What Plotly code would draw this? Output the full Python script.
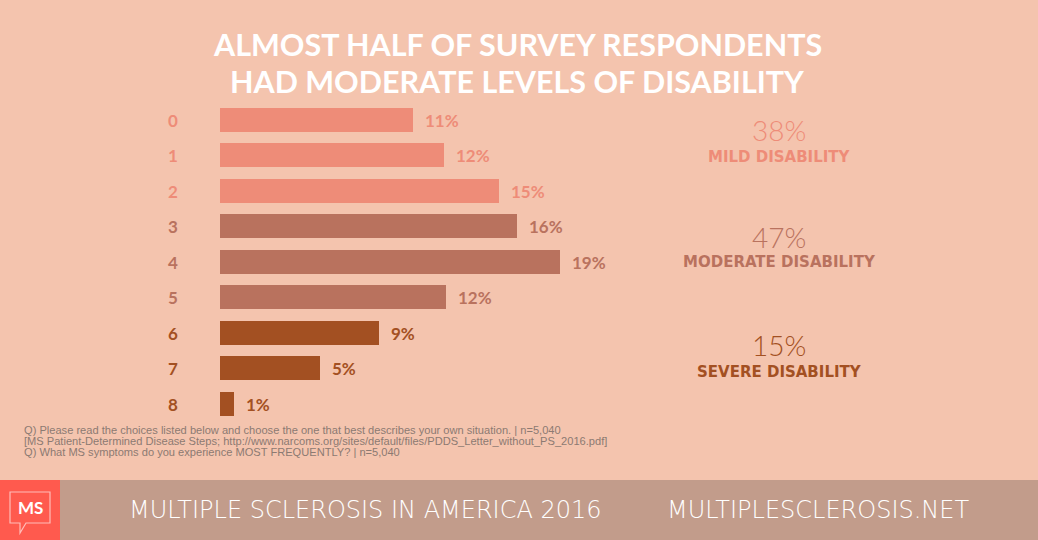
import plotly.graph_objects as go

# ---- data ----
categories = ["0", "1", "2", "3", "4", "5", "6", "7", "8"]
values = [10.8, 12.5, 15.6, 16.6, 19.0, 12.6, 8.9, 5.6, 0.8]
value_labels = ["11%", "12%", "15%", "16%", "19%", "12%", "9%", "5%", "1%"]
groups = ["mild", "mild", "mild", "moderate", "moderate", "moderate", "severe", "severe", "severe"]
group_names = ["MILD DISABILITY", "MODERATE DISABILITY", "SEVERE DISABILITY"]
group_totals = ["38%", "47%", "15%"]
group_keys = ["mild", "moderate", "severe"]
title_lines = ["ALMOST HALF OF SURVEY RESPONDENTS", "HAD MODERATE LEVELS OF DISABILITY"]
footnotes = [
    "Q) Please read the choices listed below and choose the one that best describes your own situation. | n=5,040",
    "[MS Patient-Determined Disease Steps; http://www.narcoms.org/sites/default/files/PDDS_Letter_without_PS_2016.pdf]",
    "Q) What MS symptoms do you experience MOST FREQUENTLY? | n=5,040",
]
footer_left = "MULTIPLE SCLEROSIS IN AMERICA 2016"
footer_right = "MULTIPLESCLEROSIS.NET"

# ---- styles ----
BG = "#F4C4AE"
colors = {"mild": "#EE8C78", "moderate": "#B9725E", "severe": "#A35022"}
W, H = 1038, 540

bar_colors = [colors[g] for g in groups]

fig = go.Figure()
fig.add_trace(go.Bar(
    x=values, y=categories, orientation="h",
    marker=dict(color=bar_colors, line=dict(width=0)),
    width=0.68, hoverinfo="skip", showlegend=False,
))

ann = []
# category labels
for c, g in zip(categories, groups):
    ann.append(dict(x=173 / W, xref="paper", y=c, yref="y", text="<b>%s</b>" % c,
                    showarrow=False, xanchor="center", yanchor="middle",
                    font=dict(family="Lato", size=17, color=colors[g])))
# value labels
for c, v, t, g in zip(categories, values, value_labels, groups):
    ann.append(dict(x=v, xref="x", y=c, yref="y", text="<b>%s</b>" % t,
                    showarrow=False, xanchor="left", yanchor="middle", xshift=10,
                    font=dict(family="Lato", size=17, color=colors[g])))

# group summaries
group_y = [(130, 157), (237, 262), (345, 372)]
for (yp, yn), name, tot, k in zip(group_y, group_names, group_totals, group_keys):
    ann.append(dict(x=779 / W, xref="paper", y=1 - yp / H, yref="paper", text=tot,
                    showarrow=False, xanchor="center", yanchor="middle",
                    font=dict(family="Lato", size=28, color=colors[k], weight=300)))
    ann.append(dict(x=779 / W, xref="paper", y=1 - yn / H, yref="paper", text="<b>%s</b>" % name,
                    showarrow=False, xanchor="center", yanchor="middle",
                    font=dict(family="DejaVu Sans", size=15, color=colors[k])))

# title
for i, line in enumerate(title_lines):
    ann.append(dict(x=517 / W, xref="paper", y=1 - (44 + 37 * i) / H, yref="paper",
                    text="<b>%s</b>" % line, showarrow=False, xanchor="center", yanchor="middle",
                    font=dict(family="Lato", size=30.5, color="white")))

# footnotes
for i, line in enumerate(footnotes):
    ann.append(dict(x=22 / W, xref="paper", y=1 - (430 + 11 * i) / H, yref="paper",
                    text=line, showarrow=False, xanchor="left", yanchor="middle",
                    font=dict(family="Liberation Sans", size=11.1, color="#8C7A72")))

# footer texts
ann.append(dict(x=365 / W, xref="paper", y=1 - 510 / H, yref="paper", text=footer_left,
                showarrow=False, xanchor="center", yanchor="middle",
                font=dict(family="DejaVu Sans", size=24, color="white", weight=200)))
ann.append(dict(x=818 / W, xref="paper", y=1 - 510 / H, yref="paper", text=footer_right,
                showarrow=False, xanchor="center", yanchor="middle",
                font=dict(family="DejaVu Sans", size=24, color="white", weight=200)))
ann.append(dict(x=30 / W, xref="paper", y=1 - 507 / H, yref="paper", text="<b>MS</b>",
                showarrow=False, xanchor="center", yanchor="middle",
                font=dict(family="Lato", size=17, color="white")))

shapes = [
    dict(type="rect", xref="paper", yref="paper", x0=0, x1=1, y0=0, y1=1 - 480 / H,
         fillcolor="#C29C8B", line=dict(width=0), layer="below"),
    dict(type="rect", xref="paper", yref="paper", x0=0, x1=60 / W, y0=0, y1=1 - 480 / H,
         fillcolor="#FF5A4E", line=dict(width=0), layer="below"),
    # speech-bubble outline of the logo
    dict(type="path", xref="paper", yref="paper",
         path="M {x0},{y0} L {x1},{y0} L {x1},{y2} L {x3},{y2} L {x4},{y5} L {x4},{y2} L {x0},{y2} Z".format(
             x0=10 / W, x1=50 / W, x3=26 / W, x4=20 / W,
             y0=1 - 492 / H, y2=1 - 523 / H, y5=1 - 533 / H),
         line=dict(color="rgba(255,255,255,0.6)", width=1.2), fillcolor="rgba(0,0,0,0)"),
]

fig.update_layout(
    width=W, height=H, margin=dict(l=0, r=0, t=0, b=0),
    paper_bgcolor=BG, plot_bgcolor=BG,
    xaxis=dict(domain=[220 / W, 1], range=[0, 818 / 17.9], visible=False, fixedrange=True),
    yaxis=dict(domain=[1 - 421.75 / H, 1 - 102.25 / H], range=[8.5, -0.5],
               type="category", visible=False, fixedrange=True),
    annotations=ann, shapes=shapes, bargap=0,
)

fig.write_html("out.html", config={"displayModeBar": False},
               post_script="document.body.style.margin='0';document.body.style.overflow='hidden';")
